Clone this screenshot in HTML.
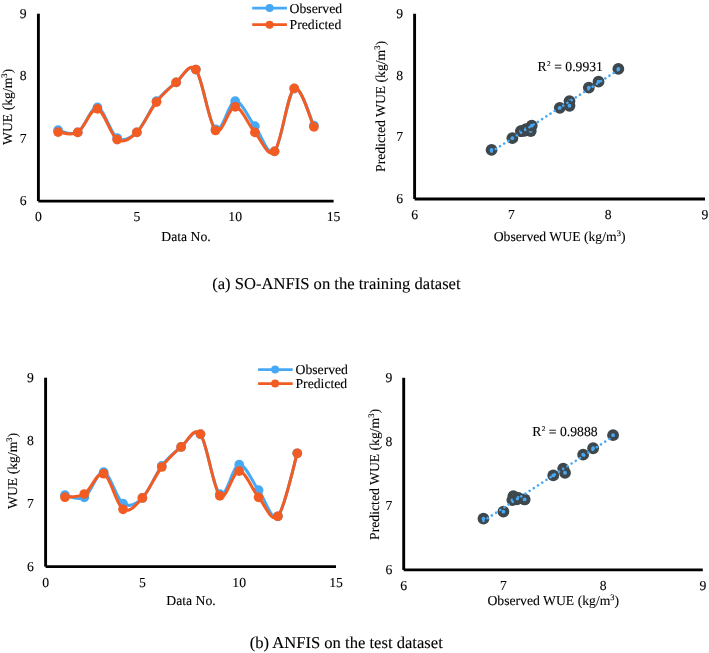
<!DOCTYPE html>
<html><head><meta charset="utf-8"><style>
html,body{margin:0;padding:0;background:#fff;}
body{width:709px;height:653px;overflow:hidden;}
svg{display:block;will-change:transform;}
text{font-family:"Liberation Serif",serif;fill:#000;stroke:#000;stroke-width:0.1px;text-rendering:geometricPrecision;}
</style></head><body>
<svg width="709" height="653" viewBox="0 0 709 653">
<rect width="709" height="653" fill="#fff"/>
<line x1="38.4" y1="13.7" x2="38.4" y2="201.1" stroke="#000" stroke-width="2.9"/>
<line x1="38.4" y1="201.1" x2="333.6" y2="201.1" stroke="#000" stroke-width="2.9"/>
<text x="26.60" y="17.80" text-anchor="end" font-size="13.7" >9</text>
<text x="26.60" y="80.27" text-anchor="end" font-size="13.7" >8</text>
<text x="26.60" y="142.73" text-anchor="end" font-size="13.7" >7</text>
<text x="26.60" y="205.20" text-anchor="end" font-size="13.7" >6</text>
<text x="38.40" y="221.30" text-anchor="middle" font-size="13.7" >0</text>
<text x="136.80" y="221.30" text-anchor="middle" font-size="13.7" >5</text>
<text x="235.20" y="221.30" text-anchor="middle" font-size="13.7" >10</text>
<text x="333.60" y="221.30" text-anchor="middle" font-size="13.7" >15</text>
<text x="186.00" y="241.20" text-anchor="middle" font-size="13.7" >Data No.</text>
<text x="0" y="0" text-anchor="middle" font-size="13.7" transform="translate(12.2,106.9) rotate(-90)">WUE (kg/m<tspan font-size="8.49" dy="-5">3</tspan><tspan dy="5">)</tspan></text>
<path d="M58.08,130.20 C61.36,130.56 71.20,136.19 77.76,132.39 C84.32,128.59 90.88,106.46 97.44,107.40 C104.00,108.34 110.56,133.84 117.12,138.01 C123.68,142.17 130.24,138.53 136.80,132.39 C143.36,126.24 149.92,109.48 156.48,101.15 C163.04,92.82 169.60,87.67 176.16,82.41 C182.72,77.16 189.28,61.80 195.84,69.61 C202.40,77.42 208.96,124.01 215.52,129.26 C222.08,134.52 228.64,101.67 235.20,101.15 C241.76,100.63 248.32,117.76 254.88,126.14 C261.44,134.52 268.00,157.69 274.56,151.44 C281.12,145.19 287.68,92.98 294.24,88.66 C300.80,84.34 310.64,119.37 313.92,125.52" fill="none" stroke="#47A8F5" stroke-width="3.0" stroke-linejoin="round" stroke-linecap="round"/>
<circle cx="58.08" cy="130.20" r="4.85" fill="#47A8F5"/>
<circle cx="77.76" cy="132.39" r="4.85" fill="#47A8F5"/>
<circle cx="97.44" cy="107.40" r="4.85" fill="#47A8F5"/>
<circle cx="117.12" cy="138.01" r="4.85" fill="#47A8F5"/>
<circle cx="136.80" cy="132.39" r="4.85" fill="#47A8F5"/>
<circle cx="156.48" cy="101.15" r="4.85" fill="#47A8F5"/>
<circle cx="176.16" cy="82.41" r="4.85" fill="#47A8F5"/>
<circle cx="195.84" cy="69.61" r="4.85" fill="#47A8F5"/>
<circle cx="215.52" cy="129.26" r="4.85" fill="#47A8F5"/>
<circle cx="235.20" cy="101.15" r="4.85" fill="#47A8F5"/>
<circle cx="254.88" cy="126.14" r="4.85" fill="#47A8F5"/>
<circle cx="274.56" cy="151.44" r="4.85" fill="#47A8F5"/>
<circle cx="294.24" cy="88.66" r="4.85" fill="#47A8F5"/>
<circle cx="313.92" cy="125.52" r="4.85" fill="#47A8F5"/>
<path d="M58.08,132.07 C61.36,132.13 71.20,136.25 77.76,132.39 C84.32,128.52 90.88,107.70 97.44,108.90 C104.00,110.10 110.56,135.66 117.12,139.57 C123.68,143.48 130.24,138.64 136.80,132.39 C143.36,126.13 149.92,110.36 156.48,102.03 C163.04,93.70 169.60,87.84 176.16,82.41 C182.72,76.99 189.28,61.47 195.84,69.48 C202.40,77.50 208.96,124.30 215.52,130.51 C222.08,136.73 228.64,106.46 235.20,106.78 C241.76,107.09 248.32,124.94 254.88,132.39 C261.44,139.83 268.00,158.77 274.56,151.44 C281.12,144.11 287.68,92.50 294.24,88.41 C300.80,84.32 310.64,120.48 313.92,126.89" fill="none" stroke="#F25C23" stroke-width="3.0" stroke-linejoin="round" stroke-linecap="round"/>
<circle cx="58.08" cy="132.07" r="4.85" fill="#F25C23"/>
<circle cx="77.76" cy="132.39" r="4.85" fill="#F25C23"/>
<circle cx="97.44" cy="108.90" r="4.85" fill="#F25C23"/>
<circle cx="117.12" cy="139.57" r="4.85" fill="#F25C23"/>
<circle cx="136.80" cy="132.39" r="4.85" fill="#F25C23"/>
<circle cx="156.48" cy="102.03" r="4.85" fill="#F25C23"/>
<circle cx="176.16" cy="82.41" r="4.85" fill="#F25C23"/>
<circle cx="195.84" cy="69.48" r="4.85" fill="#F25C23"/>
<circle cx="215.52" cy="130.51" r="4.85" fill="#F25C23"/>
<circle cx="235.20" cy="106.78" r="4.85" fill="#F25C23"/>
<circle cx="254.88" cy="132.39" r="4.85" fill="#F25C23"/>
<circle cx="274.56" cy="151.44" r="4.85" fill="#F25C23"/>
<circle cx="294.24" cy="88.41" r="4.85" fill="#F25C23"/>
<circle cx="313.92" cy="126.89" r="4.85" fill="#F25C23"/>
<line x1="252.2" y1="8.1" x2="286.9" y2="8.1" stroke="#47A8F5" stroke-width="2.8"/>
<circle cx="269.6" cy="8.1" r="4.0" fill="#47A8F5"/>
<text x="289.60" y="12.70" text-anchor="start" font-size="13.7" >Observed</text>
<line x1="252.2" y1="24.7" x2="286.9" y2="24.7" stroke="#F25C23" stroke-width="2.8"/>
<circle cx="269.6" cy="24.7" r="4.0" fill="#F25C23"/>
<text x="289.60" y="28.90" text-anchor="start" font-size="13.7" >Predicted</text>
<line x1="414.6" y1="13.75" x2="414.6" y2="199.0" stroke="#000" stroke-width="2.9"/>
<line x1="414.6" y1="199.0" x2="705.0" y2="199.0" stroke="#000" stroke-width="2.9"/>
<text x="403.00" y="17.85" text-anchor="end" font-size="13.7" >9</text>
<text x="403.00" y="79.60" text-anchor="end" font-size="13.7" >8</text>
<text x="403.00" y="141.35" text-anchor="end" font-size="13.7" >7</text>
<text x="403.00" y="203.10" text-anchor="end" font-size="13.7" >6</text>
<text x="414.60" y="219.30" text-anchor="middle" font-size="13.7" >6</text>
<text x="511.40" y="219.30" text-anchor="middle" font-size="13.7" >7</text>
<text x="608.20" y="219.30" text-anchor="middle" font-size="13.7" >8</text>
<text x="705.00" y="219.30" text-anchor="middle" font-size="13.7" >9</text>
<text x="559.60" y="240.60" text-anchor="middle" font-size="13.7" >Observed WUE (kg/m<tspan font-size="8.49" dy="-5">3</tspan><tspan dy="5">)</tspan></text>
<text x="0" y="0" text-anchor="middle" font-size="13.7" transform="translate(385.2,106.4) rotate(-90)">Predicted WUE (kg/m<tspan font-size="8.49" dy="-5">3</tspan><tspan dy="5">)</tspan></text>
<circle cx="524.47" cy="130.77" r="5.9" fill="#3D474C"/>
<circle cx="524.47" cy="130.77" r="1.9" fill="#47A8F5"/>
<circle cx="521.08" cy="131.08" r="5.9" fill="#3D474C"/>
<circle cx="521.08" cy="131.08" r="1.9" fill="#47A8F5"/>
<circle cx="559.80" cy="107.86" r="5.9" fill="#3D474C"/>
<circle cx="559.80" cy="107.86" r="1.9" fill="#47A8F5"/>
<circle cx="512.37" cy="138.18" r="5.9" fill="#3D474C"/>
<circle cx="512.37" cy="138.18" r="1.9" fill="#47A8F5"/>
<circle cx="521.08" cy="131.08" r="5.9" fill="#3D474C"/>
<circle cx="521.08" cy="131.08" r="1.9" fill="#47A8F5"/>
<circle cx="569.48" cy="101.06" r="5.9" fill="#3D474C"/>
<circle cx="569.48" cy="101.06" r="1.9" fill="#47A8F5"/>
<circle cx="598.52" cy="81.67" r="5.9" fill="#3D474C"/>
<circle cx="598.52" cy="81.67" r="1.9" fill="#47A8F5"/>
<circle cx="618.36" cy="68.89" r="5.9" fill="#3D474C"/>
<circle cx="618.36" cy="68.89" r="1.9" fill="#47A8F5"/>
<circle cx="525.92" cy="129.22" r="5.9" fill="#3D474C"/>
<circle cx="525.92" cy="129.22" r="1.9" fill="#47A8F5"/>
<circle cx="569.48" cy="105.76" r="5.9" fill="#3D474C"/>
<circle cx="569.48" cy="105.76" r="1.9" fill="#47A8F5"/>
<circle cx="530.76" cy="131.08" r="5.9" fill="#3D474C"/>
<circle cx="530.76" cy="131.08" r="1.9" fill="#47A8F5"/>
<circle cx="491.56" cy="149.91" r="5.9" fill="#3D474C"/>
<circle cx="491.56" cy="149.91" r="1.9" fill="#47A8F5"/>
<circle cx="588.84" cy="87.60" r="5.9" fill="#3D474C"/>
<circle cx="588.84" cy="87.60" r="1.9" fill="#47A8F5"/>
<circle cx="531.73" cy="125.64" r="5.9" fill="#3D474C"/>
<circle cx="531.73" cy="125.64" r="1.9" fill="#47A8F5"/>
<line x1="491.56" y1="151.65" x2="618.36" y2="70.00" stroke="#47A8F5" stroke-width="2.6" stroke-linecap="round" stroke-dasharray="0.01 5.0"/>
<text x="537.60" y="70.60" font-size="13.7">R<tspan font-size="7.4" dx="0.3" dy="-4.5">2</tspan><tspan dx="0" dy="4.5"> = 0.9931</tspan></text>
<line x1="45.6" y1="377.7" x2="45.6" y2="566.6" stroke="#000" stroke-width="2.9"/>
<line x1="45.6" y1="566.6" x2="336.0" y2="566.6" stroke="#000" stroke-width="2.9"/>
<text x="33.80" y="381.80" text-anchor="end" font-size="13.7" >9</text>
<text x="33.80" y="444.77" text-anchor="end" font-size="13.7" >8</text>
<text x="33.80" y="507.73" text-anchor="end" font-size="13.7" >7</text>
<text x="33.80" y="570.70" text-anchor="end" font-size="13.7" >6</text>
<text x="45.60" y="587.10" text-anchor="middle" font-size="13.7" >0</text>
<text x="142.40" y="587.10" text-anchor="middle" font-size="13.7" >5</text>
<text x="239.20" y="587.10" text-anchor="middle" font-size="13.7" >10</text>
<text x="336.00" y="587.10" text-anchor="middle" font-size="13.7" >15</text>
<text x="191.00" y="605.20" text-anchor="middle" font-size="13.7" >Data No.</text>
<text x="0" y="0" text-anchor="middle" font-size="13.7" transform="translate(17.4,470.9) rotate(-90)">WUE (kg/m<tspan font-size="8.49" dy="-5">3</tspan><tspan dy="5">)</tspan></text>
<path d="M64.96,495.13 C68.19,495.50 77.87,501.17 84.32,497.34 C90.77,493.51 97.23,471.10 103.68,472.15 C110.13,473.20 116.59,499.33 123.04,503.63 C129.49,507.94 135.95,504.26 142.40,497.97 C148.85,491.67 155.31,474.35 161.76,465.85 C168.21,457.35 174.67,452.21 181.12,446.96 C187.57,441.72 194.03,426.50 200.48,434.37 C206.93,442.24 213.39,489.13 219.84,494.19 C226.29,499.25 232.75,465.38 239.20,464.72 C245.65,464.06 252.11,481.64 258.56,490.22 C265.01,498.81 271.47,522.39 277.92,516.23 C284.37,510.07 294.05,463.75 297.28,453.26" fill="none" stroke="#47A8F5" stroke-width="3.0" stroke-linejoin="round" stroke-linecap="round"/>
<circle cx="64.96" cy="495.13" r="4.85" fill="#47A8F5"/>
<circle cx="84.32" cy="497.34" r="4.85" fill="#47A8F5"/>
<circle cx="103.68" cy="472.15" r="4.85" fill="#47A8F5"/>
<circle cx="123.04" cy="503.63" r="4.85" fill="#47A8F5"/>
<circle cx="142.40" cy="497.97" r="4.85" fill="#47A8F5"/>
<circle cx="161.76" cy="465.85" r="4.85" fill="#47A8F5"/>
<circle cx="181.12" cy="446.96" r="4.85" fill="#47A8F5"/>
<circle cx="200.48" cy="434.37" r="4.85" fill="#47A8F5"/>
<circle cx="219.84" cy="494.19" r="4.85" fill="#47A8F5"/>
<circle cx="239.20" cy="464.72" r="4.85" fill="#47A8F5"/>
<circle cx="258.56" cy="490.22" r="4.85" fill="#47A8F5"/>
<circle cx="277.92" cy="516.23" r="4.85" fill="#47A8F5"/>
<circle cx="297.28" cy="453.26" r="4.85" fill="#47A8F5"/>
<path d="M64.96,497.21 C68.19,496.68 77.87,497.91 84.32,494.00 C90.77,490.09 97.23,471.17 103.68,473.72 C110.13,476.27 116.59,505.26 123.04,509.30 C129.49,513.34 135.95,505.02 142.40,497.97 C148.85,490.91 155.31,475.49 161.76,466.99 C168.21,458.49 174.67,452.44 181.12,446.96 C187.57,441.49 194.03,425.96 200.48,434.12 C206.93,442.27 213.39,489.73 219.84,495.89 C226.29,502.05 232.75,470.84 239.20,471.08 C245.65,471.32 252.11,489.81 258.56,497.34 C265.01,504.86 271.47,523.57 277.92,516.23 C284.37,508.88 294.05,463.75 297.28,453.26" fill="none" stroke="#F25C23" stroke-width="3.0" stroke-linejoin="round" stroke-linecap="round"/>
<circle cx="64.96" cy="497.21" r="4.85" fill="#F25C23"/>
<circle cx="84.32" cy="494.00" r="4.85" fill="#F25C23"/>
<circle cx="103.68" cy="473.72" r="4.85" fill="#F25C23"/>
<circle cx="123.04" cy="509.30" r="4.85" fill="#F25C23"/>
<circle cx="142.40" cy="497.97" r="4.85" fill="#F25C23"/>
<circle cx="161.76" cy="466.99" r="4.85" fill="#F25C23"/>
<circle cx="181.12" cy="446.96" r="4.85" fill="#F25C23"/>
<circle cx="200.48" cy="434.12" r="4.85" fill="#F25C23"/>
<circle cx="219.84" cy="495.89" r="4.85" fill="#F25C23"/>
<circle cx="239.20" cy="471.08" r="4.85" fill="#F25C23"/>
<circle cx="258.56" cy="497.34" r="4.85" fill="#F25C23"/>
<circle cx="277.92" cy="516.23" r="4.85" fill="#F25C23"/>
<circle cx="297.28" cy="453.26" r="4.85" fill="#F25C23"/>
<line x1="258.1" y1="369.6" x2="292.7" y2="369.6" stroke="#47A8F5" stroke-width="2.8"/>
<circle cx="275.1" cy="369.6" r="4.0" fill="#47A8F5"/>
<text x="295.50" y="373.70" text-anchor="start" font-size="13.7" >Observed</text>
<line x1="258.1" y1="383.6" x2="292.7" y2="383.6" stroke="#F25C23" stroke-width="2.8"/>
<circle cx="275.1" cy="383.6" r="4.0" fill="#F25C23"/>
<text x="295.50" y="387.60" text-anchor="start" font-size="13.7" >Predicted</text>
<line x1="403.7" y1="377.8" x2="403.7" y2="569.9" stroke="#000" stroke-width="2.9"/>
<line x1="403.7" y1="569.9" x2="702.8" y2="569.9" stroke="#000" stroke-width="2.9"/>
<text x="392.30" y="381.90" text-anchor="end" font-size="13.7" >9</text>
<text x="392.30" y="445.93" text-anchor="end" font-size="13.7" >8</text>
<text x="392.30" y="509.97" text-anchor="end" font-size="13.7" >7</text>
<text x="392.30" y="574.00" text-anchor="end" font-size="13.7" >6</text>
<text x="403.70" y="589.90" text-anchor="middle" font-size="13.7" >6</text>
<text x="503.40" y="589.90" text-anchor="middle" font-size="13.7" >7</text>
<text x="603.10" y="589.90" text-anchor="middle" font-size="13.7" >8</text>
<text x="702.80" y="589.90" text-anchor="middle" font-size="13.7" >9</text>
<text x="553.30" y="605.40" text-anchor="middle" font-size="13.7" >Observed WUE (kg/m<tspan font-size="8.49" dy="-5">3</tspan><tspan dy="5">)</tspan></text>
<text x="0" y="0" text-anchor="middle" font-size="13.7" transform="translate(379.4,474.4) rotate(-90)">Predicted WUE (kg/m<tspan font-size="8.49" dy="-5">3</tspan><tspan dy="5">)</tspan></text>
<circle cx="516.86" cy="499.34" r="5.9" fill="#3D474C"/>
<circle cx="516.86" cy="499.34" r="1.9" fill="#47A8F5"/>
<circle cx="513.37" cy="496.07" r="5.9" fill="#3D474C"/>
<circle cx="513.37" cy="496.07" r="1.9" fill="#47A8F5"/>
<circle cx="553.25" cy="475.45" r="5.9" fill="#3D474C"/>
<circle cx="553.25" cy="475.45" r="1.9" fill="#47A8F5"/>
<circle cx="503.40" cy="511.63" r="5.9" fill="#3D474C"/>
<circle cx="503.40" cy="511.63" r="1.9" fill="#47A8F5"/>
<circle cx="512.37" cy="500.10" r="5.9" fill="#3D474C"/>
<circle cx="512.37" cy="500.10" r="1.9" fill="#47A8F5"/>
<circle cx="563.22" cy="468.60" r="5.9" fill="#3D474C"/>
<circle cx="563.22" cy="468.60" r="1.9" fill="#47A8F5"/>
<circle cx="593.13" cy="448.24" r="5.9" fill="#3D474C"/>
<circle cx="593.13" cy="448.24" r="1.9" fill="#47A8F5"/>
<circle cx="613.07" cy="435.17" r="5.9" fill="#3D474C"/>
<circle cx="613.07" cy="435.17" r="1.9" fill="#47A8F5"/>
<circle cx="518.36" cy="497.99" r="5.9" fill="#3D474C"/>
<circle cx="518.36" cy="497.99" r="1.9" fill="#47A8F5"/>
<circle cx="565.01" cy="472.76" r="5.9" fill="#3D474C"/>
<circle cx="565.01" cy="472.76" r="1.9" fill="#47A8F5"/>
<circle cx="524.64" cy="499.46" r="5.9" fill="#3D474C"/>
<circle cx="524.64" cy="499.46" r="1.9" fill="#47A8F5"/>
<circle cx="483.46" cy="518.67" r="5.9" fill="#3D474C"/>
<circle cx="483.46" cy="518.67" r="1.9" fill="#47A8F5"/>
<circle cx="583.16" cy="454.64" r="5.9" fill="#3D474C"/>
<circle cx="583.16" cy="454.64" r="1.9" fill="#47A8F5"/>
<line x1="483.46" y1="520.92" x2="613.07" y2="436.51" stroke="#47A8F5" stroke-width="2.6" stroke-linecap="round" stroke-dasharray="0.01 5.0"/>
<text x="532.30" y="435.70" font-size="13.7">R<tspan font-size="7.4" dx="0.3" dy="-4.5">2</tspan><tspan dx="0" dy="4.5"> = 0.9888</tspan></text>
<text x="336.40" y="289.00" text-anchor="middle" font-size="16.6" >(a) SO-ANFIS on the training dataset</text>
<text x="346.20" y="647.60" text-anchor="middle" font-size="16.6" >(b) ANFIS on the test dataset</text>
</svg>
</body></html>
